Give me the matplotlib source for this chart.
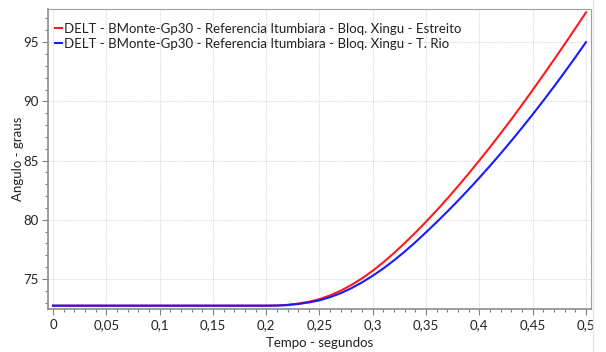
import numpy as np
import matplotlib
matplotlib.use("Agg")
import matplotlib.pyplot as plt
from matplotlib.ticker import MultipleLocator, FuncFormatter
from matplotlib.lines import Line2D

plt.rcParams['font.family'] = ['Lato', 'DejaVu Sans']

# time axis, seconds (0.01 s steps)
tempo = np.round(np.arange(0, 0.501, 0.01), 2)

# rotor angle, degrees - flat until the disturbance at ~0.21 s
flat = [72.75] * 21
estreito = flat + [72.76, 72.82, 72.93, 73.08, 73.30, 73.62, 74.02, 74.50, 75.06, 75.70,
                   76.42, 77.20, 78.04, 78.92, 79.84, 80.80, 81.80, 82.84, 83.91, 85.01,
                   86.14, 87.30, 88.49, 89.71, 90.96, 92.23, 93.52, 94.83, 96.16, 97.51]
t_rio = flat + [72.76, 72.80, 72.89, 73.02, 73.20, 73.47, 73.81, 74.23, 74.72, 75.28,
                75.90, 76.58, 77.32, 78.11, 78.95, 79.81, 80.70, 81.62, 82.57, 83.55,
                84.56, 85.60, 86.67, 87.77, 88.90, 90.06, 91.25, 92.47, 93.72, 95.00]

labels = ["DELT - BMonte-Gp30 - Referencia Itumbiara - Bloq. Xingu - Estreito",
          "DELT - BMonte-Gp30 - Referencia Itumbiara - Bloq. Xingu - T. Rio"]

fig = plt.figure(figsize=(6.06, 3.52), dpi=100)
ax = fig.add_axes([0.0792, 0.1222, 0.8960, 0.8522])

ax.plot(tempo, estreito, color='#ff1a1a', lw=1.5, label=labels[0])
ax.plot(tempo, t_rio, color='#1a1aff', lw=1.5, label=labels[1])

ax.set_xlim(-0.0047, 0.5047)
ax.set_ylim(72.47, 97.8)

ax.xaxis.set_major_locator(MultipleLocator(0.05))
ax.xaxis.set_minor_locator(MultipleLocator(0.01))
ax.yaxis.set_major_locator(MultipleLocator(5))
ax.yaxis.set_minor_locator(MultipleLocator(1))

def comma(v, pos):
    return ('%g' % round(v, 3)).replace('.', ',')

ax.xaxis.set_major_formatter(FuncFormatter(comma))
ax.yaxis.set_major_formatter(FuncFormatter(comma))

fs = 9.5
ax.tick_params(which='major', length=4, width=0.8, color='#808080',
               labelsize=fs, labelcolor='#222222', pad=3)
ax.tick_params(which='minor', length=2, width=0.8, color='#808080')

ax.grid(True, which='major', color='#d9d9d9', lw=0.8, ls=(0, (1, 1)))
ax.set_axisbelow(True)

for side in ['left', 'bottom']:
    ax.spines[side].set_color('#8c8c8c')
    ax.spines[side].set_linewidth(1.2)
for side in ['top', 'right']:
    ax.spines[side].set_color('#a0a0a0')
    ax.spines[side].set_linewidth(0.8)

ax.set_xlabel("Tempo - segundos", fontsize=fs, color='#222222', labelpad=4.5)
ax.set_ylabel("Angulo - graus", fontsize=fs, color='#222222', labelpad=-1)

leg = ax.legend(loc='upper left', bbox_to_anchor=(0.008, 0.962), frameon=False,
                fontsize=fs, handlelength=0.5, handletextpad=0.2,
                borderaxespad=0.0, labelspacing=0.2, borderpad=0.2)
for txt in leg.get_texts():
    txt.set_color('#222222')

# thin panel border to the right of the chart
fig.add_artist(Line2D([0.979, 0.979], [0.0, 1.0], transform=fig.transFigure,
                      color='#e6e6e6', lw=1))

fig.savefig("out.png", dpi=100)
